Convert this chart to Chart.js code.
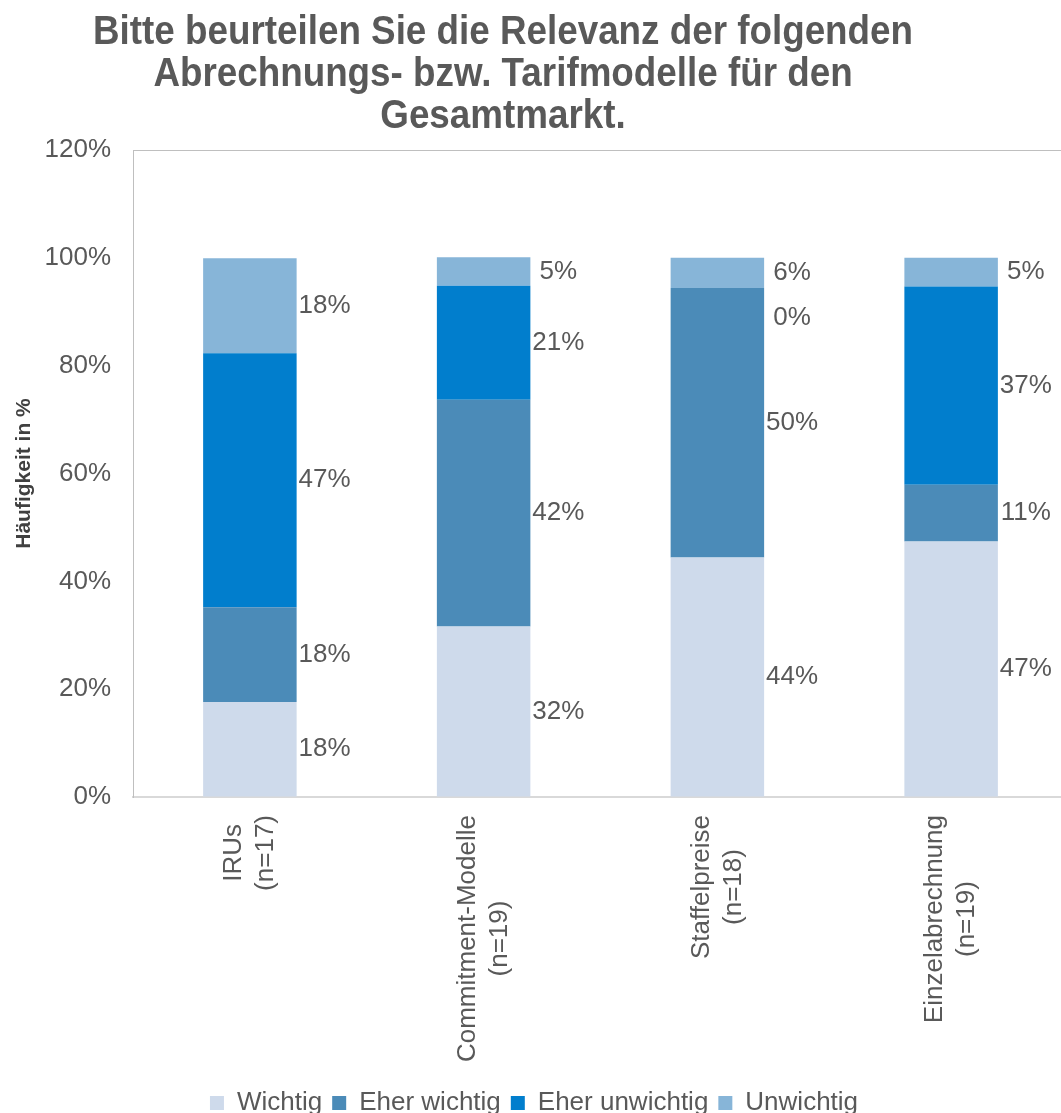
<!DOCTYPE html>
<html>
<head>
<meta charset="utf-8">
<script src="https://cdn.jsdelivr.net/npm/chart.js@4.4.1/dist/chart.umd.min.js"></script>
<style>
  html, body { margin: 0; padding: 0; background: #fff; overflow: hidden; }
  #wrap { width: 1068px; height: 1126px; }
</style>
</head>
<body>
<div id="wrap"><canvas id="grafico"></canvas></div>
<script>
const titel = ['Bitte beurteilen Sie die Relevanz der folgenden', 'Abrechnungs- bzw. Tarifmodelle für den', 'Gesamtmarkt.']
const kategorien = [['IRUs', '(n=17)'], ['Commitment-Modelle', '(n=19)'], ['Staffelpreise', '(n=18)'], ['Einzelabrechnung', '(n=19)']]
const serien = ['Wichtig', 'Eher wichtig', 'Eher unwichtig', 'Unwichtig']

const wichtig = [17.6, 31.6, 44.4, 47.4]
const eherWichtig = [17.6, 42.1, 50.0, 10.5]
const eherUnwichtig = [47.1, 21.1, 0, 36.8]
const unwichtig = [17.6, 5.3, 5.6, 5.3]

const yTicks = [0, 20, 40, 60, 80, 100, 120]

const farben = ['#cedaeb', '#4b8bb8', '#017ecd', '#87b5d8']
const grau = '#595959'

const ctx = document.getElementById('grafico')

// titel selbst zeichnen, weil er nicht ueber der ganzen canvas zentriert ist
const titelPlugin = {
    id: 'titelPlugin',
    afterDraw(chart) {
        const c = chart.ctx
        c.save()
        c.fillStyle = grau
        c.font = 'bold 40px "Liberation Sans", Arial, sans-serif'
        c.textAlign = 'center'
        c.textBaseline = 'alphabetic'
        c.translate(503, 0)
        c.scale(0.92, 1)
        titel.forEach((zeile, i) => {
            c.fillText(zeile, 0, 44 + i * 42)
        })
        c.restore()
    }
}

// prozentwerte rechts neben den balken
const wertePlugin = {
    id: 'wertePlugin',
    afterDatasetsDraw(chart) {
        const c = chart.ctx
        c.save()
        c.fillStyle = grau
        c.font = '26px "Liberation Sans", Arial, sans-serif'
        c.textAlign = 'center'
        c.textBaseline = 'middle'
        chart.data.datasets.forEach((ds, i) => {
            const meta = chart.getDatasetMeta(i)
            meta.data.forEach((bar, j) => {
                const wert = ds.data[j]
                let y = (bar.y + bar.base) / 2
                if (wert === 0) y += 30
                c.fillText(Math.round(wert) + '%', bar.x + bar.width / 2 + 28, y)
            })
        })
        c.restore()
    }
}

// kategorienamen gedreht, zeilen zueinander zentriert
const achsenPlugin = {
    id: 'achsenPlugin',
    afterDraw(chart) {
        const c = chart.ctx
        const x = chart.scales.x
        c.save()
        c.fillStyle = grau
        c.font = '26px "Liberation Sans", Arial, sans-serif'
        c.textAlign = 'center'
        c.textBaseline = 'middle'
        kategorien.forEach((zeilen, i) => {
            const px = x.getPixelForTick(i)
            const breite = Math.max(...zeilen.map(z => c.measureText(z).width))
            const mitteY = chart.chartArea.bottom + 18 + breite / 2
            c.save()
            c.translate(px, mitteY)
            c.rotate(-Math.PI / 2)
            zeilen.forEach((z, k) => {
                c.fillText(z, 0, (k - (zeilen.length - 1) / 2) * 32)
            })
            c.restore()
        })
        c.restore()
    }
}

const grafico = new Chart(ctx, {
    type: 'bar',
    data: {
        labels: kategorien,
        datasets: [
            { label: serien[0], data: wichtig, backgroundColor: farben[0] },
            { label: serien[1], data: eherWichtig, backgroundColor: farben[1] },
            { label: serien[2], data: eherUnwichtig, backgroundColor: farben[2] },
            { label: serien[3], data: unwichtig, backgroundColor: farben[3] }
        ]
    },
    options: {
        responsive: true,
        maintainAspectRatio: false,
        animation: false,
        layout: { padding: { top: 150, left: 0, right: 0, bottom: 0 } },
        datasets: { bar: { barPercentage: 0.4, categoryPercentage: 1, borderWidth: 0 } },
        plugins: {
            legend: {
                position: 'bottom',
                labels: {
                    boxWidth: 14,
                    boxHeight: 14,
                    padding: 10,
                    color: grau,
                    font: { size: 26, family: '"Liberation Sans", Arial, sans-serif' }
                }
            },
            tooltip: { enabled: false },
            title: { display: false }
        },
        scales: {
            x: {
                stacked: true,
                grid: { display: false },
                border: { color: '#d9d9d9', width: 2 },
                ticks: { color: 'transparent', maxRotation: 0, autoSkip: false },
                afterFit(scale) { scale.height = 283 }
            },
            y: {
                stacked: true,
                min: 0,
                max: 120,
                afterBuildTicks(scale) { scale.ticks = yTicks.map(v => ({ value: v })) },
                grid: {
                    drawTicks: false,
                    color: c => c.tick && c.tick.value === 120 ? '#bfbfbf' : 'transparent'
                },
                border: { color: '#bfbfbf' },
                ticks: {
                    color: grau,
                    padding: 22,
                    font: { size: 26, family: '"Liberation Sans", Arial, sans-serif' },
                    callback: v => v + '%'
                },
                title: {
                    display: true,
                    text: 'Häufigkeit in %',
                    color: '#404040',
                    font: { size: 21, weight: 'bold', family: '"Liberation Sans", Arial, sans-serif' },
                    padding: { top: 12, bottom: 0 }
                },
                afterFit(scale) { scale.width = 133 }
            }
        }
    },
    plugins: [titelPlugin, wertePlugin, achsenPlugin]
})
</script>
</body>
</html>
